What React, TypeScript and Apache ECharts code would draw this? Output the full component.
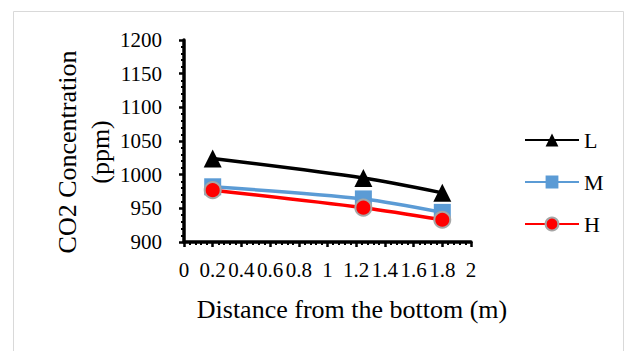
import React, { useEffect, useRef } from "react";
import * as echarts from "echarts";

const distances = [0.2, 1.25, 1.8];
const seriesL = [1024, 995, 973];
const seriesM = [982, 964, 944];
const seriesH = [977, 951, 933];
const seriesNames = ["L", "M", "H"];
const yTitle = "CO2 Concentration\n(ppm)";
const xTitle = "Distance from the bottom (m)";

const FONT = "Liberation Serif";

export default function App() {
  const ref = useRef<HTMLDivElement>(null);
  useEffect(() => {
    if (!ref.current) return;
    const chart = echarts.init(ref.current, undefined, { renderer: "svg" });
    const pair = (vals: number[]) => distances.map((d, i) => [d, vals[i]]);
    const labelText = {
      color: "#000",
      fontFamily: FONT,
      fontSize: 21,
    };
    chart.setOption({
      animation: false,
      backgroundColor: "#ffffff",
      textStyle: { fontFamily: FONT },
      grid: { left: 184, right: 154, top: 40, bottom: 109, containLabel: false },
      xAxis: {
        type: "value",
        min: 0,
        max: 2,
        interval: 0.2,
        axisLine: { show: true, lineStyle: { color: "#000", width: 3.5 } },
        axisTick: { show: true, length: 5, lineStyle: { color: "#000", width: 2.5 } },
        minorTick: { show: true, splitNumber: 5, length: 3, lineStyle: { color: "#000", width: 2 } },
        splitLine: { show: false },
        axisLabel: {
          ...labelText,
          margin: 17,
          hideOverlap: false,
          formatter: (v: number) => String(Math.round(v * 10) / 10),
        },
      },
      yAxis: {
        type: "value",
        min: 900,
        max: 1200,
        interval: 50,
        axisLine: { show: true, lineStyle: { color: "#000", width: 3.5 } },
        axisTick: { show: true, length: 5, lineStyle: { color: "#000", width: 2.5 } },
        minorTick: { show: true, splitNumber: 5, length: 3, lineStyle: { color: "#000", width: 2 } },
        splitLine: { show: false },
        axisLabel: {
          ...labelText,
          margin: 22,
          formatter: (v: number) => String(v),
        },
      },
      legend: {
        orient: "vertical",
        left: 519,
        top: 124,
        itemWidth: 54,
        itemHeight: 16,
        itemGap: 20,
        textStyle: { color: "#000", fontFamily: FONT, fontSize: 22, lineHeight: 22 },
        data: seriesNames,
      },
      series: [
        {
          name: seriesNames[0],
          type: "line",
          data: pair(seriesL),
          smooth: 0.3,
          symbol: "triangle",
          symbolSize: 18,
          itemStyle: { color: "#000000" },
          lineStyle: { color: "#000000", width: 3.5 },
          z: 2,
        },
        {
          name: seriesNames[1],
          type: "line",
          data: pair(seriesM),
          smooth: 0.3,
          symbol: "rect",
          symbolSize: 17,
          itemStyle: { color: "#5b9bd5" },
          lineStyle: { color: "#5b9bd5", width: 3.5 },
          z: 3,
        },
        {
          name: seriesNames[2],
          type: "line",
          data: pair(seriesH),
          smooth: 0.3,
          symbol: "circle",
          symbolSize: 16,
          itemStyle: { color: "#ff0000", borderColor: "#a6a6a6", borderWidth: 2 },
          lineStyle: { color: "#ff0000", width: 3.5 },
          z: 4,
        },
      ],
      graphic: [
        {
          type: "rect",
          shape: { x: 13.5, y: 11.5, width: 610, height: 360 },
          style: { fill: "none", stroke: "#d9d9d9", lineWidth: 1 },
          silent: true,
          z: -10,
        },
        {
          type: "text",
          x: 84,
          y: 152,
          rotation: Math.PI / 2,
          style: {
            text: yTitle,
            fill: "#000",
            fontFamily: FONT,
            fontSize: 26,
            lineHeight: 33,
            align: "center",
            verticalAlign: "middle",
          },
        },
        {
          type: "text",
          x: 352,
          y: 309,
          style: {
            text: xTitle,
            fill: "#000",
            fontFamily: FONT,
            fontSize: 26,
            align: "center",
            verticalAlign: "middle",
          },
        },
      ],
    });
    return () => chart.dispose();
  }, []);
  return (
    <div
      ref={ref}
      style={{ position: "absolute", left: 0, top: 0, width: 625, height: 351, background: "#fff" }}
    />
  );
}
